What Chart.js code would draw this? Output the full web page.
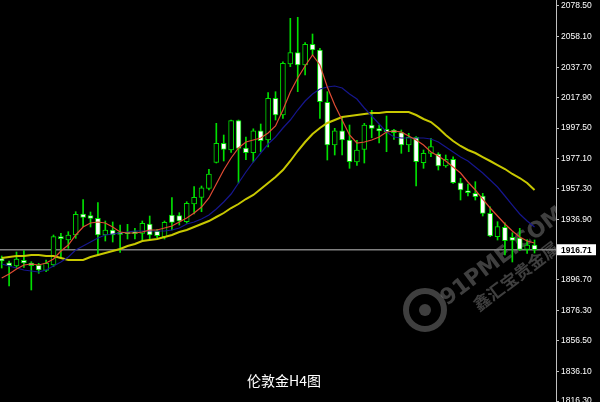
<!DOCTYPE html>
<html>
<head>
<meta charset="utf-8">
<script src="https://cdn.jsdelivr.net/npm/chart.js@4"></script>
<style>
  html, body { margin: 0; padding: 0; background: #000; }
  #wrap { width: 600px; height: 402px; position: relative; }
</style>
</head>
<body>
<div id="wrap"><canvas id="chart"></canvas></div>
<script>
// H4 candles (oldest first)
const opens = [1910.89,1908.10,1905.91,1909.69,1907.90,1906.37,1903.06,1906.57,1925.36,1923.17,
  1926.49,1940.43,1939.43,1937.57,1926.49,1929.81,1928.28,1928.28,1928.68,1927.62,
  1933.79,1929.14,1925.36,1939.76,1939.30,1935.32,1947.06,1951.51,1957.49,1974.75,
  1987.36,1982.91,2002.49,1984.24,1981.12,1995.72,1989.55,2017.23,2006.14,2040.00,
  2047.50,2039.33,2053.07,2049.29,2014.57,1986.23,1995.72,1989.55,1974.94,1983.24,
  1999.50,1997.05,1996.65,1996.19,1994.40,1986.23,1991.34,1974.48,1980.72,1980.25,
  1972.29,1976.74,1961.20,1955.89,1954.17,1952.38,1940.89,1925.36,1931.60,1924.96,
  1924.50,1916.86,1919.85];
const highs = [1912.55,1909.23,1915.20,1916.20,1908.76,1907.70,1909.89,1926.49,1927.62,1928.68,
  1941.95,1949.92,1941.75,1948.06,1935.78,1935.12,1933.12,1933.59,1930.93,1935.78,
  1939.10,1930.27,1935.78,1951.25,1941.29,1948.59,1958.55,1959.01,1970.10,2000.63,
  1992.87,2002.82,2002.82,1991.41,1996.98,2000.17,2020.95,2021.61,2041.52,2070.33,
  2071.00,2054.14,2059.91,2050.42,2021.61,1997.31,2005.15,1999.50,1989.35,2000.63,
  2009.26,1999.50,2005.48,1996.65,1996.19,1994.00,1991.74,1982.91,1990.68,1981.12,
  1979.59,1978.46,1964.12,1960.34,1961.87,1954.17,1945.27,1935.32,1934.65,1928.01,
  1930.93,1923.50,1923.17];
const lows = [1904.58,1892.63,1904.58,1904.91,1889.98,1901.06,1902.13,1905.44,1911.02,1917.66,
  1924.30,1932.00,1931.80,1913.21,1922.50,1921.84,1915.00,1923.83,1923.83,1923.17,
  1923.83,1924.70,1923.83,1929.81,1933.12,1934.25,1940.43,1941.95,1956.36,1974.28,
  1975.61,1981.25,1961.00,1976.47,1974.94,1981.78,1984.90,2002.82,2003.95,2038.20,
  2021.61,2032.69,2045.97,2003.95,1976.27,1979.59,1979.59,1970.76,1972.62,1974.28,
  1991.01,1987.56,1981.78,1990.01,1980.72,1981.78,1959.01,1970.76,1978.46,1969.63,
  1971.43,1960.81,1949.72,1952.38,1949.72,1939.10,1925.36,1923.17,1913.21,1908.57,
  1916.20,1914.34,1914.54];
const closes = [1909.23,1906.11,1910.56,1907.90,1906.11,1903.25,1907.70,1925.36,1924.03,1926.49,
  1940.23,1938.24,1937.57,1926.49,1929.81,1926.49,1926.95,1927.35,1927.35,1934.25,
  1926.49,1926.02,1934.92,1934.92,1935.78,1947.53,1951.51,1957.88,1966.98,1987.36,
  1983.38,2002.49,1984.04,1981.12,1995.72,1989.08,2017.23,2006.14,2040.46,2047.50,
  2039.33,2053.07,2049.29,2014.97,1986.23,1995.72,1989.55,1975.14,1982.91,1999.50,
  1997.31,1995.66,1995.06,1994.40,1986.23,1991.34,1975.14,1980.72,1985.10,1972.29,
  1976.74,1961.20,1956.36,1954.57,1951.91,1940.89,1925.82,1932.00,1922.70,1922.97,
  1916.86,1919.85,1916.71];

// moving average lines (red / navy / yellow), read per candle
const maFast = [1897.94,1900.60,1903.92,1906.57,1907.24,1906.57,1907.90,1910.56,1915.87,1919.85,
  1926.49,1931.80,1934.45,1935.12,1934.45,1931.80,1928.48,1927.81,1927.81,1928.48,
  1929.81,1929.81,1931.13,1932.46,1935.12,1937.77,1941.09,1945.07,1951.05,1960.34,
  1969.63,1977.60,1984.24,1988.22,1989.55,1990.88,1994.19,1998.84,2009.46,2021.41,
  2030.70,2038.67,2045.97,2039.33,2024.73,2012.78,2002.82,1992.87,1987.56,1988.22,
  1989.55,1991.54,1994.86,1995.52,1994.86,1992.20,1989.55,1986.23,1981.58,1978.93,
  1975.61,1971.63,1967.64,1961.67,1956.36,1950.38,1944.41,1939.10,1933.79,1929.14,
  1925.16,1922.50,1921.18];
const maMid = [1907.24,1905.91,1904.58,1903.25,1902.59,1901.93,1903.25,1905.91,1908.56,1911.88,
  1916.53,1919.19,1921.84,1924.50,1926.49,1927.15,1927.81,1928.48,1929.14,1929.14,
  1929.14,1929.14,1929.14,1929.81,1931.13,1933.79,1935.12,1937.11,1939.76,1943.75,
  1948.39,1953.70,1961.00,1968.31,1974.94,1980.92,1986.89,1991.54,1997.51,2002.82,
  2009.46,2015.44,2020.08,2023.40,2024.73,2025.39,2024.07,2020.08,2016.76,2010.79,
  2005.48,2000.17,1994.86,1991.54,1990.88,1990.88,1990.88,1990.88,1990.21,1988.22,
  1984.90,1981.58,1978.26,1975.61,1971.63,1967.64,1963.00,1958.35,1952.38,1946.40,
  1940.43,1935.78,1931.80];
const maSlow = [1911.22,1911.88,1912.55,1912.55,1913.21,1913.21,1912.55,1912.55,1911.22,1909.89,
  1909.89,1909.89,1911.88,1913.21,1914.54,1915.87,1917.19,1919.19,1920.51,1922.50,
  1923.17,1923.83,1925.16,1926.49,1928.48,1929.81,1931.80,1933.79,1935.78,1938.44,
  1941.09,1944.41,1947.06,1950.38,1953.04,1957.02,1961.00,1964.99,1969.63,1975.61,
  1982.25,1988.22,1993.53,1997.51,2000.83,2002.82,2004.82,2005.48,2006.14,2006.81,
  2007.47,2007.47,2008.13,2008.13,2008.13,2008.13,2006.14,2003.49,2001.50,1997.51,
  1992.87,1988.88,1985.57,1982.91,1980.92,1978.26,1975.61,1972.95,1970.30,1966.98,
  1964.32,1961.00,1956.36];

// price axis labels as printed on the right
const yTicks = [2078.50, 2058.10, 2037.70, 2017.90, 1997.50, 1977.10, 1957.30,
  1936.90, 1896.70, 1876.30, 1856.50, 1836.10, 1816.30];

const titleText = '伦敦金H4图';
const lastPrice = closes[closes.length - 1];

const GREEN = '#00e000';

const pts = arr => arr.map((v, i) => ({ x: i, y: v }));

// bid line, price tag, title, watermark
const extras = {
  id: 'extras',
  beforeDatasetsDraw(chart) {
    const { ctx, chartArea: a, scales } = chart;
    ctx.save();
    ctx.beginPath();
    ctx.rect(a.left, a.top, a.right - a.left, a.bottom - a.top);
    ctx.clip();

    // watermark
    ctx.fillStyle = 'rgba(150,150,150,0.42)';
    ctx.strokeStyle = 'rgba(150,150,150,0.42)';
    ctx.lineWidth = 6;
    ctx.beginPath();
    ctx.arc(425, 310, 19, 0, Math.PI * 2);
    ctx.stroke();
    ctx.beginPath();
    ctx.arc(425, 310, 6, 0, Math.PI * 2);
    ctx.fill();
    ctx.save();
    ctx.translate(447, 306);
    ctx.rotate(-37 * Math.PI / 180);
    ctx.font = 'bold 22px "DejaVu Sans", sans-serif';
    ctx.textBaseline = 'alphabetic';
    ctx.fillText('91PME.COM', 0, 0);
    ctx.font = 'bold 17px "Noto Sans CJK SC", sans-serif';
    ctx.fillText('鑫汇宝贵金属', 22, 24);
    ctx.restore();

    // bid line
    const y = scales.y.getPixelForValue(lastPrice);
    ctx.strokeStyle = '#808080';
    ctx.lineWidth = 1.5;
    ctx.beginPath();
    ctx.moveTo(a.left, y);
    ctx.lineTo(a.right, y);
    ctx.stroke();
    ctx.restore();
  },
  afterDraw(chart) {
    const { ctx, chartArea: a, scales } = chart;
    const y = scales.y.getPixelForValue(lastPrice);
    ctx.save();
    ctx.fillStyle = '#ffffff';
    ctx.fillRect(a.right + 1, y - 5.5, 39, 11);
    ctx.fillStyle = '#000000';
    ctx.font = 'bold 8.5px "Liberation Sans", Arial, sans-serif';
    ctx.textBaseline = 'middle';
    ctx.textAlign = 'left';
    ctx.fillText(lastPrice.toFixed(2), a.right + 5, y + 0.5);

    ctx.fillStyle = '#ffffff';
    ctx.font = '14px "Noto Sans CJK SC", sans-serif';
    ctx.textAlign = 'center';
    ctx.fillText(titleText, 284, 381);
    ctx.restore();
  }
};

new Chart(document.getElementById('chart'), {
  type: 'bar',
  data: {
    datasets: [
      {
        type: 'line', data: pts(maFast), borderColor: '#e04b33', borderWidth: 1.2,
        pointRadius: 0, tension: 0, order: 0
      },
      {
        type: 'line', data: pts(maMid), borderColor: '#16168e', borderWidth: 1.2,
        pointRadius: 0, tension: 0, order: 0
      },
      {
        type: 'line', data: pts(maSlow), borderColor: '#c8c800', borderWidth: 2,
        pointRadius: 0, tension: 0, order: 0
      },
      {
        // bodies
        data: opens.map((o, i) => ({ x: i, y: [o, closes[i]] })),
        backgroundColor: opens.map((o, i) => closes[i] >= o ? '#000000' : '#ffffff'),
        borderColor: GREEN,
        borderWidth: 1,
        borderSkipped: false,
        barThickness: 5,
        grouped: false,
        order: 1
      },
      {
        // wicks
        data: lows.map((l, i) => ({ x: i, y: [l, highs[i]] })),
        backgroundColor: GREEN,
        borderWidth: 0,
        barThickness: 1,
        grouped: false,
        order: 2
      }
    ]
  },
  options: {
    responsive: true,
    maintainAspectRatio: false,
    animation: false,
    events: [],
    layout: { padding: 0 },
    plugins: {
      legend: { display: false },
      tooltip: { enabled: false }
    },
    scales: {
      x: {
        type: 'linear',
        min: -0.23,
        max: 74.9,
        offset: false,
        display: false
      },
      y: {
        position: 'right',
        min: 1815.64,
        max: 2082.48,
        afterBuildTicks: s => { s.ticks = yTicks.map(v => ({ value: v })); },
        afterFit: s => { s.width = 44; s.paddingTop = 0; s.paddingBottom = 0; },
        grid: { drawOnChartArea: false, tickLength: 3, color: '#c0c0c0' },
        border: { display: true, color: '#c0c0c0', width: 1 },
        ticks: {
          color: '#ffffff',
          padding: 2,
          autoSkip: false,
          font: { family: '"Liberation Sans", Arial, sans-serif', size: 8.5 },
          callback: v => Number(v).toFixed(2)
        }
      }
    }
  },
  plugins: [extras]
});
</script>
</body>
</html>
